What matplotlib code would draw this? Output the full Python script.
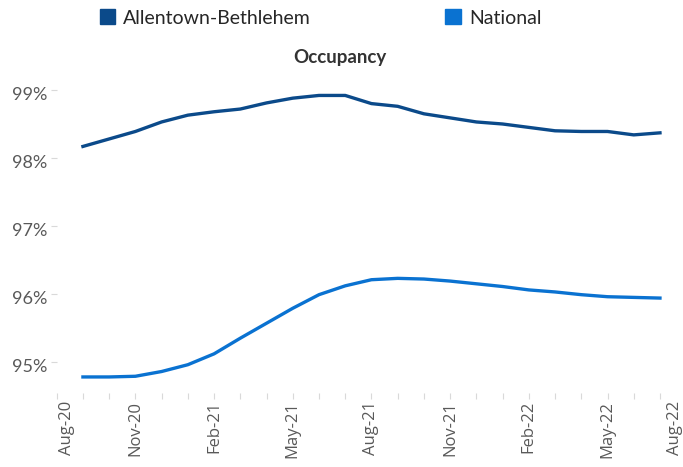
import matplotlib
matplotlib.use("Agg")
import matplotlib.pyplot as plt
from matplotlib import transforms
from matplotlib.patches import Patch

# monthly occupancy, Sep-20 .. Jul-22 (index 0 = Aug-20)
month_idx = list(range(1, 24))
allentown = [98.17, 98.28, 98.39, 98.53, 98.63, 98.68, 98.72, 98.81, 98.88, 98.92,
             98.92, 98.80, 98.76, 98.65, 98.59, 98.53, 98.50, 98.45, 98.40, 98.39,
             98.39, 98.34, 98.37]
national = [94.78, 94.78, 94.79, 94.86, 94.96, 95.12, 95.35, 95.57, 95.79, 95.99,
            96.12, 96.21, 96.23, 96.22, 96.19, 96.15, 96.11, 96.06, 96.03, 95.99,
            95.96, 95.95, 95.94]
tick_idx = [0, 3, 6, 9, 12, 15, 18, 21, 24]
tick_labels = ["Aug-20", "Nov-20", "Feb-21", "May-21", "Aug-21", "Nov-21",
               "Feb-22", "May-22", "Aug-22"]
y_ticks = [95, 96, 97, 98, 99]

C_ALLEN = "#0B4A8A"
C_NAT = "#0A72D1"
GREY = "#595959"
TICK_C = "#D9D9D9"

plt.rcParams["font.family"] = ["Lato", "DejaVu Sans"]

W, H = 683, 467
fig = plt.figure(figsize=(W / 100, H / 100), dpi=100)
left, right_px = 56.7, 686.2
bottom_px, top_px = 393, 76.4
ax = fig.add_axes([left / W, 1 - bottom_px / H, (right_px - left) / W, (bottom_px - top_px) / H])

ax.plot(month_idx, allentown, color=C_ALLEN, lw=2.4, solid_joinstyle="round")
ax.plot(month_idx, national, color=C_NAT, lw=2.4, solid_joinstyle="round")

ax.set_xlim(0, 24)
ax.set_ylim(94.544, 99.2)
for s in ax.spines.values():
    s.set_visible(False)

ax.set_yticks(y_ticks)
ax.set_yticklabels([f"{v}%" for v in y_ticks])
ax.tick_params(axis="y", length=4, color=TICK_C, labelcolor=GREY, labelsize=13, pad=3)
# excel sits the percent labels a touch below their tick
shift = transforms.ScaledTranslation(0, -4 / 100, fig.dpi_scale_trans)
for lab in ax.get_yticklabels():
    lab.set_transform(lab.get_transform() + shift)

# month tick marks, labels drawn by hand so the end ones can be nudged inward
ax.set_xticks(range(0, 24))
ax.tick_params(axis="x", length=4, color=TICK_C, labelbottom=False)
nudge = {0: 10, 8: -11}
for i, (xi, lab) in enumerate(zip(tick_idx, tick_labels)):
    tr = transforms.blended_transform_factory(ax.transData, ax.transAxes)
    tr = transforms.offset_copy(tr, fig=fig, x=nudge.get(i, 0), y=-8, units="dots")
    ax.text(xi, 0, lab, transform=tr, rotation=90, ha="center", va="top",
            fontsize=12, color=GREY, family=["Open Sans", "DejaVu Sans"], clip_on=False)

fig.text(340 / W, 1 - 57 / H, "Occupancy", ha="center", va="center",
         fontsize=13.5, fontweight="bold", color="#333333")

handles = [Patch(color=C_ALLEN, label="Allentown-Bethlehem"),
           Patch(color=C_NAT, label="National")]
fig.legend(handles=handles, loc="center left", bbox_to_anchor=(82 / W, 1 - 18 / H),
           ncol=2, frameon=False, fontsize=14, handlelength=0.82, handleheight=0.82,
           handletextpad=0.4, columnspacing=6.9, labelcolor="#262626")

fig.savefig("out.png", dpi=100)
